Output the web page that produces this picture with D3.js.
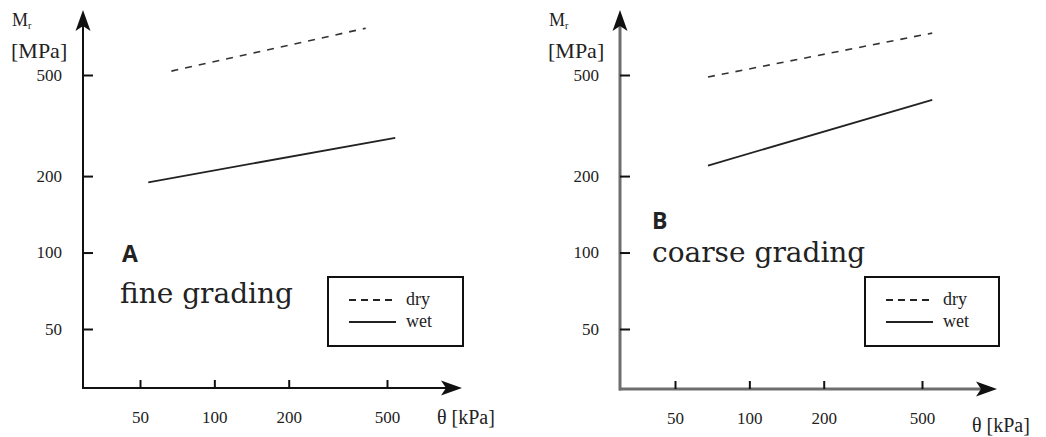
<!DOCTYPE html>
<html>
<head>
<meta charset="utf-8">
<script src="https://cdn.jsdelivr.net/npm/d3@7"></script>
<style>
  html, body { margin: 0; padding: 0; background: #fff; }
  svg { display: block; }
  text { fill: #222; }
</style>
</head>
<body>
<svg id="chart" width="1046" height="437"></svg>
<script>
// Resilient modulus M_r versus bulk stress theta, log-log axes
const thetaTicks = [50, 100, 200, 500];
const mrTicks = [50, 100, 200, 500];

// A: fine grading
const fineDryTheta = [67, 410];
const fineDryMr = [518, 764];
const fineWetTheta = [54, 540];
const fineWetMr = [189, 283];

// B: coarse grading
const coarseDryTheta = [68, 550];
const coarseDryMr = [491, 731];
const coarseWetTheta = [68, 550];
const coarseWetMr = [220, 399];

const legendLabels = ["dry", "wet"];
const panelLetters = ["A", "B"];
const panelTitles = ["fine grading", "coarse grading"];

const SERIF = "'Liberation Serif', 'Times New Roman', serif";
const WIDE_SERIF = "'DejaVu Serif', serif";
const SANS = "'Open Sans', 'Liberation Sans', sans-serif";

const svg = d3.select("#chart");

function pts(xs, ys) { return xs.map((t, i) => [t, ys[i]]); }

const panels = [
  {
    letter: panelLetters[0], title: panelTitles[0],
    dry: pts(fineDryTheta, fineDryMr), wet: pts(fineWetTheta, fineWetMr),
    ax: 83, ay: 388, xEnd: 462, yTop: 10,
    xRange: [140, 387], axisColor: "#111", axisWidth: 2,
    letterPos: [122, 262], titlePos: [120, 303],
    legend: [328, 277, 135, 69], unitPos: [437, 424],
    labelX: 12
  },
  {
    letter: panelLetters[1], title: panelTitles[1],
    dry: pts(coarseDryTheta, coarseDryMr), wet: pts(coarseWetTheta, coarseWetMr),
    ax: 620, ay: 389, xEnd: 997, yTop: 10,
    xRange: [675, 922], axisColor: "#6e6e6e", axisWidth: 3,
    letterPos: [652, 229], titlePos: [652, 262],
    legend: [865, 277, 134, 69], unitPos: [972, 432],
    labelX: 549
  }
];

panels.forEach(p => {
  const g = svg.append("g");
  const x = d3.scaleLog().domain([50, 500]).range(p.xRange);
  const y = d3.scaleLog().domain([50, 500]).range([329, 75]);

  // axis lines with arrowheads
  g.append("line")
    .attr("x1", p.ax - 1).attr("x2", p.xEnd - 12)
    .attr("y1", p.ay).attr("y2", p.ay)
    .attr("stroke", p.axisColor).attr("stroke-width", p.axisWidth);
  g.append("line")
    .attr("x1", p.ax).attr("x2", p.ax)
    .attr("y1", p.ay + p.axisWidth / 2).attr("y2", p.yTop + 12)
    .attr("stroke", p.axisColor).attr("stroke-width", p.axisWidth);
  g.append("path")
    .attr("d", `M${p.xEnd},${p.ay} L${p.xEnd - 21},${p.ay - 7.5} L${p.xEnd - 16},${p.ay} L${p.xEnd - 21},${p.ay + 7.5} Z`)
    .attr("fill", "#111");
  g.append("path")
    .attr("d", `M${p.ax},${p.yTop} L${p.ax + 7.5},${p.yTop + 21} L${p.ax},${p.yTop + 16} L${p.ax - 7.5},${p.yTop + 21} Z`)
    .attr("fill", "#111");

  // x axis ticks (pointing inward) and labels
  const xAxis = d3.axisBottom(x).tickValues(thetaTicks).tickFormat(d3.format("d"))
    .tickSizeInner(-8).tickSizeOuter(0).tickPadding(23);
  const gx = g.append("g").attr("transform", `translate(0,${p.ay})`).call(xAxis);
  gx.select(".domain").remove();
  gx.selectAll(".tick line").attr("stroke", "#111").attr("stroke-width", 2);
  gx.selectAll(".tick text").style("font-family", SERIF).style("font-size", "17px").style("fill", "#222");

  // y axis ticks (pointing inward) and labels
  const yAxis = d3.axisLeft(y).tickValues(mrTicks).tickFormat(d3.format("d"))
    .tickSizeInner(-10).tickSizeOuter(0).tickPadding(21);
  const gy = g.append("g").attr("transform", `translate(${p.ax},0)`).call(yAxis);
  gy.select(".domain").remove();
  gy.selectAll(".tick line").attr("stroke", "#111").attr("stroke-width", 2);
  gy.selectAll(".tick text").style("font-family", SERIF).style("font-size", "17px").style("fill", "#222");

  // axis titles
  const mLab = g.append("text").attr("x", p.labelX).attr("y", 26)
    .style("font-family", SERIF).style("font-size", "18px");
  mLab.append("tspan").text("M");
  mLab.append("tspan").style("font-size", "10px").attr("dy", 3).text("r");
  g.append("text").attr("x", p.labelX - 1).attr("y", 58)
    .style("font-family", SERIF).style("font-size", "22px").text("[MPa]");
  g.append("text").attr("x", p.unitPos[0]).attr("y", p.unitPos[1])
    .style("font-family", SERIF).style("font-size", "20px").text("θ [kPa]");

  // data lines
  const line = d3.line().x(d => x(d[0])).y(d => y(d[1]));
  g.append("path").datum(p.dry).attr("d", line)
    .attr("fill", "none").attr("stroke", "#333").attr("stroke-width", 1.6)
    .attr("stroke-dasharray", "7,7");
  g.append("path").datum(p.wet).attr("d", line)
    .attr("fill", "none").attr("stroke", "#222").attr("stroke-width", 1.8);

  // panel label and title
  g.append("text").attr("x", p.letterPos[0]).attr("y", p.letterPos[1])
    .style("font-family", SANS).style("font-weight", 700)
    .style("font-size", "23px").text(p.letter);
  g.append("text").attr("x", p.titlePos[0]).attr("y", p.titlePos[1])
    .style("font-family", WIDE_SERIF).style("font-size", "28px").text(p.title);

  // legend
  const [lx, ly, lw, lh] = p.legend;
  const lg = g.append("g");
  lg.append("rect").attr("x", lx).attr("y", ly).attr("width", lw).attr("height", lh)
    .attr("fill", "#fff").attr("stroke", "#111").attr("stroke-width", 2);
  legendLabels.forEach((lab, i) => {
    const yy = ly + 23 + i * 22;
    lg.append("line").attr("x1", lx + 21).attr("x2", lx + 68)
      .attr("y1", yy).attr("y2", yy)
      .attr("stroke", "#222").attr("stroke-width", 1.8)
      .attr("stroke-dasharray", i === 0 ? "7,5" : null);
    lg.append("text").attr("x", lx + 78).attr("y", yy + 5)
      .style("font-family", SERIF).style("font-size", "18px").text(lab);
  });
});
</script>
</body>
</html>
